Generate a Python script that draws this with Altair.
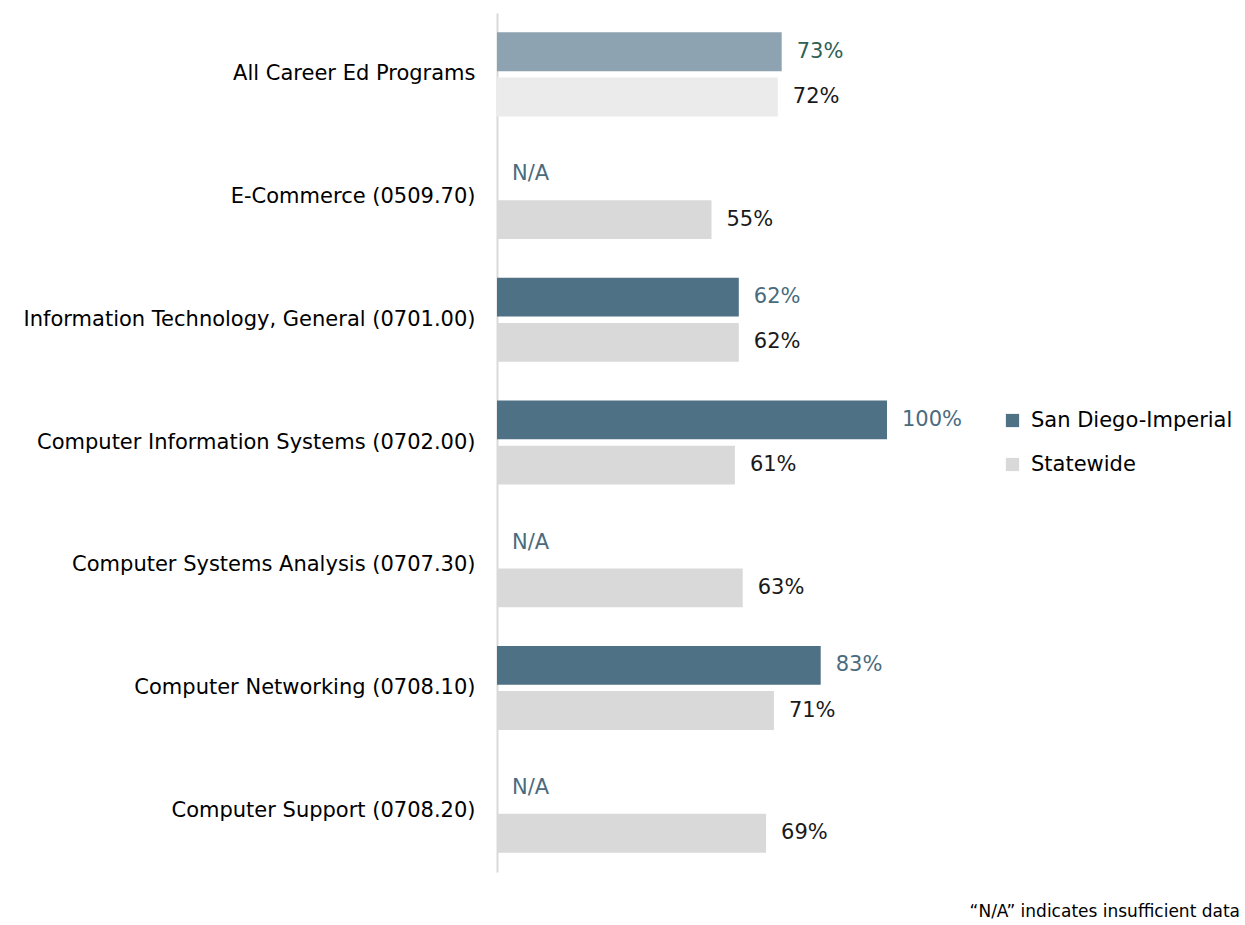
import altair as alt
import pandas as pd

categories = [
    "All Career Ed Programs",
    "E-Commerce (0509.70)",
    "Information Technology, General (0701.00)",
    "Computer Information Systems (0702.00)",
    "Computer Systems Analysis (0707.30)",
    "Computer Networking (0708.10)",
    "Computer Support (0708.20)",
]
series = ["San Diego-Imperial", "Statewide"]
san_diego = [73, None, 62, 100, None, 83, None]
statewide = [72, 55, 62, 61, 63, 71, 69]

bar_colors = ["#4F7186", "#D9D9D9"]
pattern_colors = ["#8EA3B1", "#EBEBEB"]
label_colors = ["#4A6B7E", "#1A1A1A"]
pattern_label_colors = ["#2F5F55", "#1A1A1A"]
footnote = ["\u201cN/A\u201d indicates insufficient data"]

FONT = "DejaVu Sans"
FS = 21

rows = []
for i, c in enumerate(categories):
    for s, vals in zip(series, [san_diego, statewide]):
        v = vals[i]
        si = series.index(s)
        pattern = i == 0
        rows.append({
            "category": c,
            "series": s,
            "value": v if v is not None else 0,
            "has": v is not None,
            "label": f"{v}%" if v is not None else "N/A",
            "pattern": pattern,
            "pfill": pattern_colors[si],
            "lcolor": (pattern_label_colors if pattern else label_colors)[si],
        })
df = pd.DataFrame(rows)

y_enc = alt.Y(
    "category:N",
    sort=categories,
    scale=alt.Scale(paddingInner=0.315, paddingOuter=0.1575),
    axis=alt.Axis(
        title=None, ticks=False, labelFontSize=FS, labelFont=FONT,
        labelColor="#000000", labelPadding=22, labelLimit=600,
        domainColor="#D9D9D9", domainWidth=2,
        minExtent=492, maxExtent=492,
    ),
)
yoff = alt.YOffset("series:N", sort=series,
                   scale=alt.Scale(domain=series, paddingInner=0.14))
x_enc = alt.X("value:Q", scale=alt.Scale(domain=[0, 120], nice=False), axis=None)

base = alt.Chart(df)

bars = base.transform_filter("datum.has && !datum.pattern").mark_bar().encode(
    y=y_enc, yOffset=yoff, x=x_enc,
    color=alt.Color(
        "series:N",
        scale=alt.Scale(domain=series, range=bar_colors),
        legend=alt.Legend(
            title=None, orient="none", legendX=505, legendY=397,
            symbolType="square", symbolSize=175, symbolStrokeWidth=0,
            labelFontSize=FS, labelFont=FONT, labelColor="#000000",
            labelLimit=400, rowPadding=22, labelOffset=8,
        ),
    ),
)

pbars = base.transform_filter("datum.has && datum.pattern").mark_bar().encode(
    y=y_enc, yOffset=yoff, x=x_enc,
    fill=alt.Fill("pfill:N", scale=None),
)

labels = base.mark_text(align="left", baseline="middle", dx=15,
                        fontSize=FS, font=FONT).encode(
    y=y_enc, yOffset=yoff, x=x_enc,
    text="label:N",
    color=alt.Color("lcolor:N", scale=None),
)

note = alt.Chart(pd.DataFrame({"t": footnote})).mark_text(
    align="right", baseline="middle", fontSize=17, font=FONT, color="#000000"
).encode(text="t:N", x=alt.value(743), y=alt.value(899))

chart = alt.layer(bars, pbars, labels, note).properties(
    width=468, height=859,
    padding={"left": 5, "top": 13, "right": 0, "bottom": 0},
).configure_view(stroke=None)

chart.save("out.html", embed_options={"renderer": "svg", "actions": False})
